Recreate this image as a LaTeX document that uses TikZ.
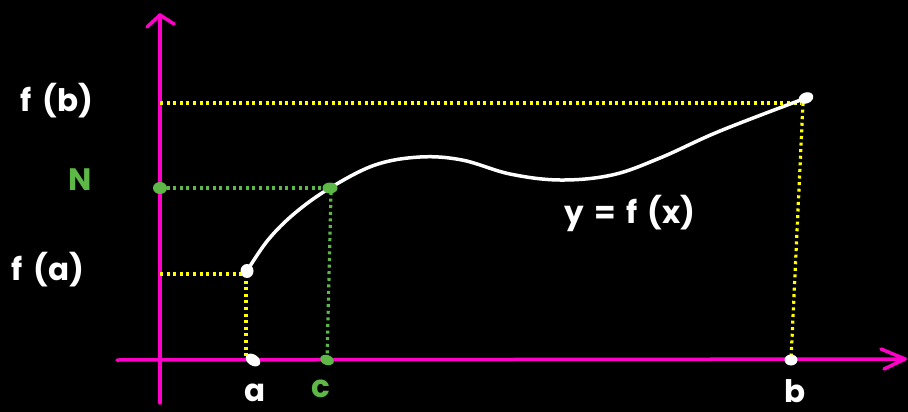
\documentclass[tikz,border=0pt]{standalone}
\usepackage{fontspec}
\setmainfont{Poppins}
\definecolor{mag}{HTML}{FF00C8}
\definecolor{grn}{HTML}{5DB847}
\definecolor{yel}{HTML}{FFFF00}
\begin{document}
\begin{tikzpicture}[x=1pt,y=-1pt,
  axis/.style={mag,line width=3.5pt,line cap=round},
  tip/.style={mag,line width=3.5pt,line cap=round,line join=round},
  ydot/.style={yel,line width=3.2pt,dash pattern=on 3pt off 3.6pt},
  gdot/.style={grn,line width=3.2pt,dash pattern=on 3pt off 3.6pt},
  lab/.style={white,font=\bfseries\fontsize{31}{33}\selectfont,inner sep=0pt},
  glab/.style={grn,font=\bfseries\fontsize{31}{33}\selectfont,inner sep=0pt}]
\fill[black] (0,0) rectangle (908,412);
\useasboundingbox (0,0) rectangle (908,412);
% axes
\coordinate (ytop) at (160,15);
\coordinate (ybot) at (160,403);
\coordinate (xl) at (117,360);
\coordinate (xr) at (905,359);
\draw[axis] (ybot) -- (ytop);
\draw[tip] (147,27) -- (ytop) -- (174,24);
\draw[axis] (xl) -- (xr);
\draw[tip] (881,349) -- (xr) -- (884,369);
% key points
\coordinate (fa) at (247,271);
\coordinate (C) at (330,188);
\coordinate (fb) at (806,98);
\coordinate (A) at (253,360);
\coordinate (Cx) at (327,360);
\coordinate (B) at (791,360);
\coordinate (N) at (160,188);
\coordinate (fay) at (160,274);
\coordinate (fby) at (160,103);
% dotted guides
\draw[ydot] (fby) -- (801,103);
\draw[ydot] (803,103) -- (B);
\draw[ydot] (fay) -- (246,274);
\draw[ydot] (246,274) -- (246,358);
\draw[gdot] (N) -- (C);
\draw[gdot] (331,192) -- (Cx);
% curve
\draw[white,line width=3.5pt,line cap=round] plot[smooth,tension=0.6] coordinates
 {(fa) (268,240) (295,213) (C) (375,165) (420,157) (462,160) (510,174) (560,180) (612,175) (660,158) (720,131) (fb)};
% points
\fill[white,rotate around={20:(fb)}] (fb) ellipse (7.5pt and 5.5pt);
\fill[white] (fa) ellipse (6.5pt and 7pt);
\fill[white,rotate around={-35:(A)}] (A) ellipse (8pt and 5.5pt);
\fill[white] (B) ellipse (6.5pt and 5.5pt);
\fill[grn] (C) ellipse (7.5pt and 5.5pt);
\fill[grn] (N) ellipse (7pt and 6pt);
\fill[grn,rotate around={-20:(Cx)}] (Cx) ellipse (7pt and 5pt);
% labels
\node[lab] (Lfb) at (57,101) {f\,\,(b)};
\node[glab] (LN) at (80,180) {N};
\node[lab] (Lfa) at (48,270) {f\,\,(a)};
\node[lab] (La) at (255,393) {a};
\node[glab] (Lc) at (321,389) {c};
\node[lab] (Lb) at (795,391) {b};
\node[lab] (Ly) at (630,213) {y\,\,=\,\,f\,\,(x)};
\end{tikzpicture}
\end{document}
